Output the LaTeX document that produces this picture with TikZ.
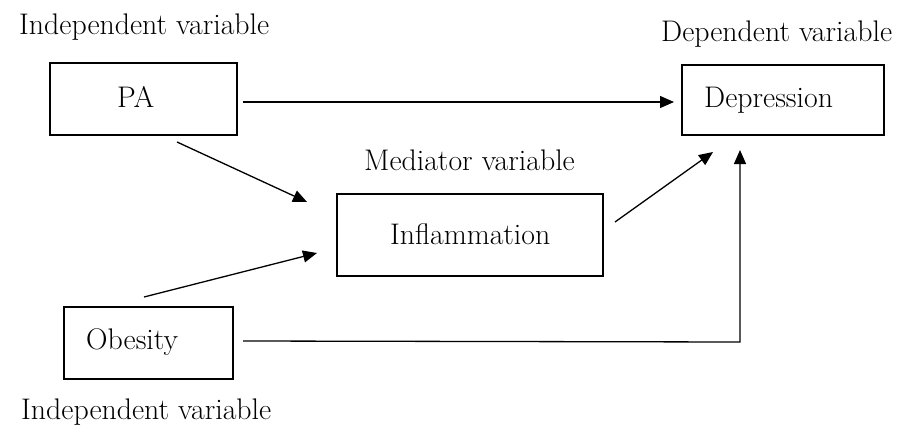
\documentclass[tikz,border=0pt]{standalone}
\usetikzlibrary{arrows.meta}
\begin{document}
\begin{tikzpicture}[x=1pt,y=-1pt,
  boxnode/.style={draw,line width=1.6pt,minimum width=#1,inner sep=0pt},
  lbl/.style={anchor=base west,inner sep=0pt,font=\fontsize{29.8}{34}\selectfont},
  arr/.style={line width=1.3pt,-{Triangle[length=14pt,width=12pt]}}]
\useasboundingbox (0,0) rectangle (899,428);
% boxes
\node[boxnode=187pt,minimum height=72pt] (pa) at (143.5,99) {};
\node[boxnode=202pt,minimum height=70pt] (dep) at (783,100) {};
\node[boxnode=266pt,minimum height=82pt] (inf) at (470,235) {};
\node[boxnode=169pt,minimum height=72pt] (obe) at (148.5,343) {};
% texts
\node[lbl] (tpa) at (117,107) {PA};
\node[lbl] (tdep) at (704,107) {Depression};
\node[lbl] (tinf) at (390,244) {Inflammation};
\node[lbl] (tobe) at (86,349) {Obesity};
\node[lbl] (l1) at (19,35) {Independent variable};
\node[lbl] (l2) at (661,42) {Dependent variable};
\node[lbl] (l3) at (364,170) {Mediator variable};
\node[lbl] (l4) at (21,419) {Independent variable};
% connector ends
\coordinate (a1s) at (243,102);
\coordinate (a1e) at (674,102);
\coordinate (a2s) at (177,142);
\coordinate (a2e) at (307,202);
\coordinate (a3s) at (144,297);
\coordinate (a3e) at (317,253);
\coordinate (a4s) at (615,222);
\coordinate (a4e) at (713,152);
\coordinate (a5s) at (243,341);
\coordinate (a5c) at (740,342);
\coordinate (a5e) at (740,150);
\draw[arr] (a1s) -- (a1e);
\draw[arr] (a2s) -- (a2e);
\draw[arr] (a3s) -- (a3e);
\draw[arr] (a4s) -- (a4e);
\draw[arr] (a5s) -- (a5c) -- (a5e);
\end{tikzpicture}
\end{document}
